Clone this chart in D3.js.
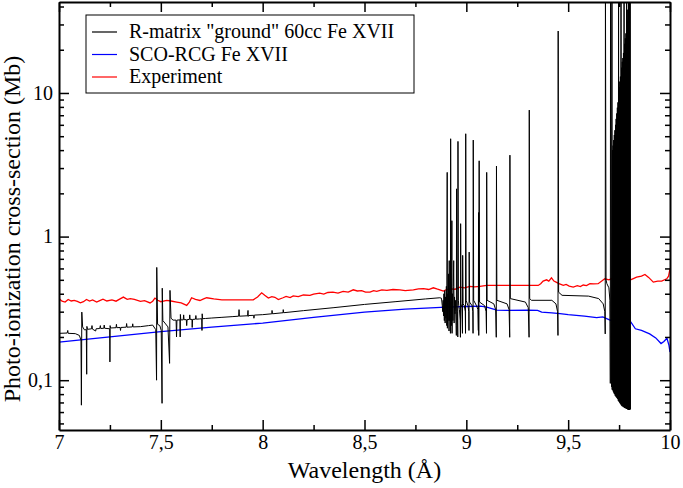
<!DOCTYPE html>
<html>
<head>
<meta charset="utf-8">
<script src="https://cdn.jsdelivr.net/npm/d3@7"></script>
<style>
body { margin: 0; background: #fff; }
</style>
</head>
<body>
<script>
// axis ticks
var xTicks = [7, 7.5, 8, 8.5, 9, 9.5, 10]
var xTickLabels = ["7", "7,5", "8", "8,5", "9", "9,5", "10"]
var xMinor = [7.25, 7.75, 8.25, 8.75, 9.25, 9.75]
var yTicks = [0.1, 1, 10]
var yTickLabels = ["0,1", "1", "10"]
var yMinor = [0.05, 0.06, 0.07, 0.08, 0.09, 0.2, 0.3, 0.4, 0.5, 0.6, 0.7, 0.8, 0.9,
    2, 3, 4, 5, 6, 7, 8, 9, 20, 30, 40]

var seriesNames = ['R-matrix "ground" 60cc Fe XVII', "SCO-RCG Fe XVII", "Experiment"]
var seriesColors = ["#000000", "#0000ff", "#ff0000"]

// R-matrix, [wavelength, cross-section]
var rMatrix = [
    [7.000, 0.212], [7.040, 0.213], [7.043, 0.222], [7.045, 0.212], [7.080, 0.211], [7.100, 0.205],
    [7.108, 0.19], [7.110, 0.067], [7.112, 0.298], [7.116, 0.235], [7.125, 0.224], [7.134, 0.225],
    [7.136, 0.11], [7.137, 0.237], [7.140, 0.226], [7.160, 0.228], [7.162, 0.24], [7.164, 0.227],
    [7.180, 0.22], [7.182, 0.228], [7.200, 0.229], [7.203, 0.24], [7.205, 0.229], [7.220, 0.23],
    [7.222, 0.242], [7.224, 0.23], [7.249, 0.228], [7.250, 0.134], [7.251, 0.24], [7.253, 0.231],
    [7.280, 0.232], [7.282, 0.245], [7.284, 0.232], [7.300, 0.233], [7.302, 0.222], [7.304, 0.233],
    [7.330, 0.234], [7.332, 0.248], [7.334, 0.234], [7.360, 0.235], [7.362, 0.247], [7.364, 0.235],
    [7.400, 0.236], [7.440, 0.24], [7.460, 0.242], [7.475, 0.225], [7.479, 0.10], [7.480, 0.61],
    [7.484, 0.245], [7.495, 0.24], [7.502, 0.222], [7.506, 0.069], [7.507, 0.437], [7.510, 0.26],
    [7.520, 0.25], [7.535, 0.235], [7.543, 0.131], [7.545, 0.422], [7.550, 0.27], [7.560, 0.262],
    [7.575, 0.262], [7.577, 0.20], [7.579, 0.262], [7.594, 0.263], [7.595, 0.20], [7.596, 0.287],
    [7.598, 0.263], [7.610, 0.263], [7.612, 0.285], [7.614, 0.264], [7.625, 0.264], [7.627, 0.24],
    [7.629, 0.264], [7.640, 0.265], [7.642, 0.285], [7.644, 0.265], [7.653, 0.265], [7.654, 0.233],
    [7.656, 0.265], [7.670, 0.266], [7.672, 0.282], [7.674, 0.266], [7.690, 0.267], [7.701, 0.268],
    [7.702, 0.222], [7.703, 0.29], [7.705, 0.268], [7.720, 0.269], [7.750, 0.271], [7.800, 0.274],
    [7.850, 0.277], [7.882, 0.279], [7.884, 0.31], [7.886, 0.279], [7.926, 0.281], [7.928, 0.306],
    [7.929, 0.278], [7.931, 0.282], [7.956, 0.283], [7.957, 0.27], [7.959, 0.284], [8.000, 0.286],
    [8.045, 0.29], [8.046, 0.306], [8.048, 0.29], [8.100, 0.295], [8.101, 0.31], [8.103, 0.295],
    [8.200, 0.305], [8.350, 0.32], [8.500, 0.337], [8.650, 0.352], [8.800, 0.368], [8.870, 0.375],
    [8.878, 0.372], [8.882, 0.33], [8.884, 0.30], [8.886, 0.36], [8.888, 0.28], [8.890, 0.40],
    [8.892, 0.26], [8.894, 0.42], [8.896, 0.25], [8.898, 0.38], [8.900, 0.27], [8.902, 0.45],
    [8.904, 0.24], [8.906, 2.8], [8.907, 0.23], [8.909, 0.40], [8.911, 0.26], [8.913, 0.55],
    [8.915, 0.22], [8.916, 0.68], [8.918, 0.26], [8.920, 0.35], [8.922, 0.212], [8.923, 4.8],
    [8.925, 0.30], [8.927, 0.24], [8.929, 1.29], [8.930, 0.212], [8.932, 0.40], [8.934, 0.26],
    [8.936, 0.45], [8.938, 0.68], [8.940, 0.25], [8.942, 0.38], [8.944, 0.29], [8.946, 0.36],
    [8.948, 0.30], [8.950, 0.24], [8.951, 0.205], [8.952, 2.15], [8.954, 0.33], [8.956, 0.30],
    [8.958, 0.20], [8.959, 4.6], [8.961, 0.36], [8.963, 0.33], [8.966, 0.31], [8.970, 0.26],
    [8.971, 0.199], [8.972, 1.23], [8.974, 0.34], [8.978, 0.32], [8.981, 0.212], [8.982, 0.74],
    [8.984, 0.34], [8.990, 0.33], [8.995, 0.30], [8.996, 0.212], [8.997, 5.2], [8.999, 0.36],
    [9.008, 0.33], [9.012, 0.30], [9.013, 0.222], [9.014, 0.78], [9.016, 0.35], [9.028, 0.33],
    [9.032, 0.30], [9.033, 0.212], [9.034, 4.7], [9.036, 0.36], [9.050, 0.33], [9.057, 0.31],
    [9.059, 0.222], [9.060, 1.47], [9.061, 0.205], [9.063, 3.37], [9.065, 0.35], [9.090, 0.33],
    [9.097, 0.30], [9.099, 0.212], [9.100, 2.8], [9.102, 0.36], [9.135, 0.34], [9.144, 0.31],
    [9.147, 0.199], [9.148, 3.1], [9.150, 0.36], [9.200, 0.34], [9.210, 0.31], [9.213, 0.199],
    [9.214, 3.69], [9.216, 0.37], [9.290, 0.35], [9.304, 0.32], [9.308, 0.199], [9.309, 7.6],
    [9.311, 0.37], [9.320, 0.36], [9.420, 0.36], [9.440, 0.34], [9.448, 0.30], [9.450, 0.205],
    [9.451, 27], [9.453, 0.41], [9.470, 0.39], [9.600, 0.385], [9.650, 0.37], [9.672, 0.34],
    [9.680, 0.30], [9.682, 0.21], [9.683, 60], [9.686, 0.5], [9.690, 0.47], [9.700, 0.44],
    [9.705, 0.36], [9.707, 0.095], [9.708, 60], [9.711, 0.55], [9.713, 0.09], [9.715, 60],
    [9.716, 0.086], [9.7175, 4.0], [9.719, 0.085], [9.7205, 4.3], [9.722, 0.083], [9.7235, 4.7],
    [9.725, 0.081], [9.7265, 5.1], [9.728, 0.08], [9.7295, 5.5], [9.731, 0.078], [9.7325, 6.0],
    [9.734, 0.077], [9.7355, 6.6], [9.737, 0.076], [9.7385, 7.2], [9.740, 0.075], [9.7415, 7.9],
    [9.743, 0.074], [9.7445, 8.6], [9.746, 0.072], [9.7475, 60], [9.749, 0.071], [9.7505, 11],
    [9.752, 0.07], [9.7535, 12], [9.755, 0.069], [9.7565, 13], [9.758, 0.068], [9.7595, 60],
    [9.761, 0.067], [9.7625, 15], [9.764, 0.066], [9.7655, 16.5], [9.767, 0.066], [9.7685, 17.5],
    [9.770, 0.065], [9.7715, 19], [9.773, 0.065], [9.7745, 60], [9.776, 0.064], [9.7775, 22],
    [9.779, 0.064], [9.7805, 24], [9.782, 0.064], [9.7835, 26], [9.785, 0.063], [9.7865, 60],
    [9.788, 0.063], [9.7895, 32], [9.791, 0.063], [9.7925, 38], [9.794, 0.062], [9.7955, 60],
    [9.797, 0.062], [9.7985, 60], [9.800, 0.062], [9.8015, 60], [9.803, 0.062], [9.8045, 60],
    [9.806, 0.063]
]

// SCO-RCG
var scoRcg = [
    [7.00, 0.184], [7.25, 0.2], [7.50, 0.218], [7.75, 0.234], [8.00, 0.25], [8.25, 0.274],
    [8.50, 0.298], [8.70, 0.313], [8.90, 0.323], [9.00, 0.326], [9.07, 0.328], [9.10, 0.323],
    [9.15, 0.308], [9.20, 0.306], [9.30, 0.307], [9.35, 0.306], [9.37, 0.298], [9.42, 0.294],
    [9.46, 0.291], [9.50, 0.286], [9.58, 0.279], [9.64, 0.273], [9.67, 0.276], [9.70, 0.264],
    [9.73, 0.256], [9.755, 0.253], [9.78, 0.26], [9.80, 0.264], [9.83, 0.228], [9.86, 0.222],
    [9.90, 0.21], [9.93, 0.197], [9.956, 0.18], [9.97, 0.186], [9.985, 0.196], [9.995, 0.175],
    [10.00, 0.157]
]

// experiment
var experiment = [
    [7.000, 0.37], [7.015, 0.355], [7.030, 0.35], [7.045, 0.365], [7.060, 0.356], [7.075, 0.36],
    [7.090, 0.354], [7.105, 0.346], [7.120, 0.352], [7.135, 0.365], [7.150, 0.356], [7.165, 0.362],
    [7.185, 0.35], [7.200, 0.358], [7.216, 0.366], [7.235, 0.356], [7.260, 0.362], [7.280, 0.355],
    [7.300, 0.368], [7.316, 0.379], [7.335, 0.366], [7.350, 0.37], [7.370, 0.365], [7.400, 0.354],
    [7.420, 0.358], [7.447, 0.345], [7.460, 0.355], [7.471, 0.373], [7.485, 0.36], [7.500, 0.352],
    [7.529, 0.36], [7.550, 0.356], [7.578, 0.35], [7.600, 0.345], [7.627, 0.332], [7.640, 0.35],
    [7.651, 0.375], [7.670, 0.365], [7.692, 0.359], [7.710, 0.368], [7.725, 0.375], [7.760, 0.368],
    [7.800, 0.363], [7.900, 0.363], [7.954, 0.363], [7.975, 0.38], [7.995, 0.406], [8.010, 0.39],
    [8.028, 0.373], [8.045, 0.382], [8.060, 0.378], [8.077, 0.364], [8.100, 0.375], [8.115, 0.383],
    [8.135, 0.376], [8.150, 0.386], [8.175, 0.382], [8.200, 0.392], [8.232, 0.39], [8.250, 0.398],
    [8.280, 0.404], [8.300, 0.398], [8.320, 0.408], [8.345, 0.41], [8.370, 0.404], [8.395, 0.415],
    [8.420, 0.41], [8.445, 0.426], [8.465, 0.418], [8.486, 0.42], [8.505, 0.41], [8.527, 0.41],
    [8.545, 0.42], [8.560, 0.416], [8.585, 0.425], [8.610, 0.422], [8.640, 0.428], [8.674, 0.426],
    [8.700, 0.42], [8.740, 0.426], [8.765, 0.432], [8.790, 0.434], [8.815, 0.428], [8.838, 0.44],
    [8.855, 0.432], [8.870, 0.426], [8.887, 0.417], [8.900, 0.425], [8.920, 0.433], [8.945, 0.43],
    [8.969, 0.444], [8.990, 0.44], [9.018, 0.45], [9.040, 0.446], [9.067, 0.45], [9.100, 0.457],
    [9.353, 0.457], [9.365, 0.47], [9.377, 0.49], [9.394, 0.5], [9.405, 0.49], [9.418, 0.516],
    [9.430, 0.49], [9.443, 0.48], [9.455, 0.47], [9.476, 0.457], [9.490, 0.465], [9.505, 0.452],
    [9.525, 0.445], [9.545, 0.455], [9.560, 0.448], [9.574, 0.46], [9.590, 0.456], [9.607, 0.47],
    [9.625, 0.468], [9.647, 0.47], [9.665, 0.49], [9.680, 0.508], [9.700, 0.5], [9.721, 0.516],
    [9.740, 0.5], [9.760, 0.49], [9.779, 0.487], [9.800, 0.496], [9.820, 0.51], [9.836, 0.522],
    [9.860, 0.53], [9.877, 0.545], [9.895, 0.52], [9.918, 0.482], [9.940, 0.49], [9.959, 0.49],
    [9.984, 0.508], [9.993, 0.53], [10.000, 0.596]
]

const width = 683
const height = 488
const mLeft = 59, mRight = 670, mTop = 2, mBottom = 430
const serif = "'Liberation Serif', 'Times New Roman', serif"

var svg = d3.select("body").append("svg").attr("width", width).attr("height", height)
    .style("font-family", serif)

var xScale = d3.scaleLinear().domain([7, 10]).range([mLeft, mRight])
var yScale = d3.scaleLog().domain([0.045, 43]).range([mBottom, mTop])

svg.append("clipPath").attr("id", "plot-clip")
    .append("rect").attr("x", mLeft).attr("y", mTop)
    .attr("width", mRight - mLeft).attr("height", mBottom - mTop)

var lineGen = d3.line().x((d) => xScale(d[0])).y((d) => yScale(d[1]))

var plot = svg.append("g").attr("clip-path", "url(#plot-clip)")

plot.append("path").datum(experiment)
    .attr("fill", "none").attr("stroke", seriesColors[2]).attr("stroke-width", 1.3)
    .attr("d", lineGen)

plot.append("path").datum(scoRcg)
    .attr("fill", "none").attr("stroke", seriesColors[1]).attr("stroke-width", 1.3)
    .attr("d", lineGen)

plot.append("path").datum(rMatrix)
    .attr("fill", "none").attr("stroke", seriesColors[0]).attr("stroke-width", 1)
    .attr("stroke-linejoin", "miter").attr("stroke-miterlimit", 1)
    .attr("d", lineGen)

// axes, ticks point inward on all four sides
function styleAxis(g, showDomain) {
    g.attr("font-family", serif).attr("font-size", 20)
    g.select(".domain").attr("stroke-width", 2).style("display", showDomain ? null : "none")
    g.selectAll(".tick line").attr("stroke-width", 1.5)
    g.selectAll(".tick text").attr("fill", "#000")
}

svg.append("g").attr("transform", "translate(0," + mBottom + ")")
    .call(d3.axisBottom(xScale).tickValues(xMinor).tickSize(-5).tickSizeOuter(0).tickFormat(""))
    .call(styleAxis, false)
svg.append("g").attr("transform", "translate(0," + mTop + ")")
    .call(d3.axisTop(xScale).tickValues(xMinor).tickSize(-5).tickSizeOuter(0).tickFormat(""))
    .call(styleAxis, false)
svg.append("g").attr("transform", "translate(" + mLeft + ",0)")
    .call(d3.axisLeft(yScale).tickValues(yMinor).tickSize(-5).tickSizeOuter(0).tickFormat(""))
    .call(styleAxis, false)
svg.append("g").attr("transform", "translate(" + mRight + ",0)")
    .call(d3.axisRight(yScale).tickValues(yMinor).tickSize(-5).tickSizeOuter(0).tickFormat(""))
    .call(styleAxis, false)

svg.append("g").attr("transform", "translate(0," + mBottom + ")")
    .call(d3.axisBottom(xScale).tickValues(xTicks).tickSize(-10).tickSizeOuter(0).tickPadding(5)
        .tickFormat((d, i) => xTickLabels[i]))
    .call(styleAxis, true)
svg.append("g").attr("transform", "translate(0," + mTop + ")")
    .call(d3.axisTop(xScale).tickValues(xTicks).tickSize(-10).tickSizeOuter(0).tickFormat(""))
    .call(styleAxis, true)
svg.append("g").attr("transform", "translate(" + mLeft + ",0)")
    .call(d3.axisLeft(yScale).tickValues(yTicks).tickSize(-10).tickSizeOuter(0).tickPadding(6)
        .tickFormat((d, i) => yTickLabels[i]))
    .call(styleAxis, true)
svg.append("g").attr("transform", "translate(" + mRight + ",0)")
    .call(d3.axisRight(yScale).tickValues(yTicks).tickSize(-10).tickSizeOuter(0).tickFormat(""))
    .call(styleAxis, true)

// axis titles
svg.append("text").attr("x", (mLeft + mRight) / 2).attr("y", 478)
    .attr("text-anchor", "middle").attr("font-size", 24).text("Wavelength (Å)")

svg.append("text").attr("transform", "translate(20," + 229 + ") rotate(-90)")
    .attr("text-anchor", "middle").attr("font-size", 24).text("Photo-ionization cross-section (Mb)")

// legend
var legend = svg.append("g").attr("transform", "translate(86,15)")
legend.append("rect").attr("width", 328).attr("height", 78)
    .attr("fill", "#fff").attr("stroke", "#000").attr("stroke-width", 1)

var rows = legend.selectAll("g.row").data(seriesNames).enter().append("g")
    .attr("class", "row")
    .attr("transform", (d, i) => "translate(0," + (17 + 22.5 * i) + ")")
rows.append("line").attr("x1", 6).attr("x2", 31).attr("y1", 0).attr("y2", 0)
    .attr("stroke", (d, i) => seriesColors[i]).attr("stroke-width", 1.2)
rows.append("text").attr("x", 43).attr("y", 6).attr("font-size", 20).text((d) => d)
</script>
</body>
</html>
